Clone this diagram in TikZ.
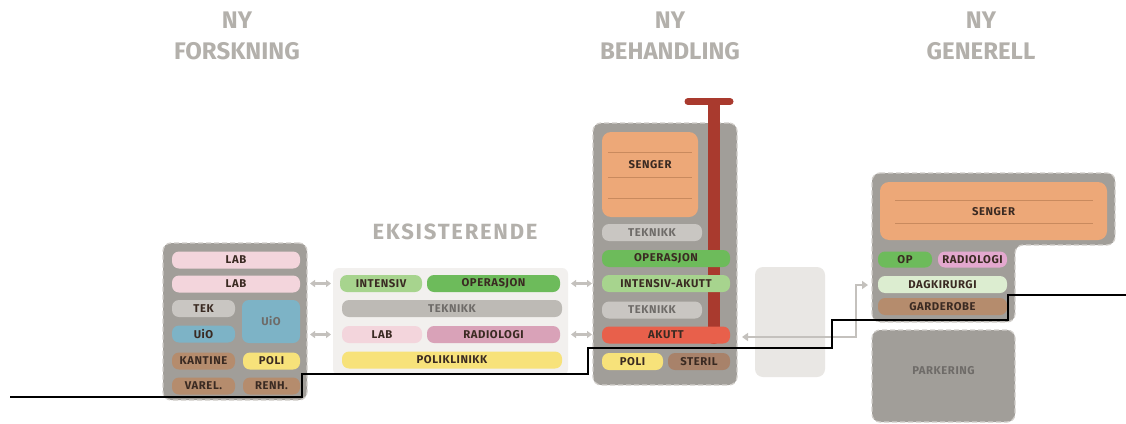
\documentclass[tikz,border=0pt]{standalone}
\usepackage{fontspec}
\setmainfont{Fira Sans}
\newfontfamily\lblfont[LetterSpace=5]{Fira Sans}
\newfontfamily\eksfont[LetterSpace=8]{Fira Sans}
\usetikzlibrary{arrows.meta}
\definecolor{bgray}{HTML}{A19E99}
\definecolor{bdash}{HTML}{D2CFCB}
\definecolor{pinkl}{HTML}{F3D5DC}
\definecolor{tekg}{HTML}{C9C6C2}
\definecolor{uiob}{HTML}{7DB3C6}
\definecolor{brownr}{HTML}{B58C6D}
\definecolor{yel}{HTML}{F7E27A}
\definecolor{greenl}{HTML}{A7D48E}
\definecolor{greend}{HTML}{6DBB5B}
\definecolor{tekm}{HTML}{BDBAB5}
\definecolor{mauve}{HTML}{D9A2B8}
\definecolor{eksbg}{HTML}{F2F0EE}
\definecolor{orng}{HTML}{EDA878}
\definecolor{sline}{HTML}{C98A5E}
\definecolor{redb}{HTML}{E8604B}
\definecolor{steril}{HTML}{A8826A}
\definecolor{dagk}{HTML}{DCEDD0}
\definecolor{radp}{HTML}{E4A8CF}
\definecolor{pole}{HTML}{A93A2E}
\definecolor{placeh}{HTML}{E9E7E4}
\definecolor{txt}{HTML}{3A2A22}
\definecolor{txtg}{HTML}{6E6B68}
\definecolor{ttl}{HTML}{B3B0AB}
\definecolor{arr}{HTML}{C4C1BD}
\begin{document}
\begin{tikzpicture}[x=1pt,y=-1pt,
  bld/.style={fill=bgray, draw=bdash, dash pattern=on 5pt off 3pt, line width=1.2pt, rounded corners=8pt},
  room/.style={rectangle, rounded corners=7pt, inner sep=0pt, minimum height=17pt,
    font=\lblfont\bfseries\fontsize{11.3}{13}\selectfont, text=txt},
  ttlstyle/.style={font=\bfseries\fontsize{24}{28}\selectfont, text=ttl, inner sep=0pt},
  dbl/.style={draw=arr, line width=2.2pt, {Triangle[length=5pt,width=7pt]}-{Triangle[length=5pt,width=7pt]}},
  ground/.style={draw=black, line width=1.4pt},
  sl/.style={draw=sline, line width=0.6pt}]
\useasboundingbox[fill=white] (0,0) rectangle (1126,423);

% titles
\node[ttlstyle] (t1a) at (237,20) {NY};
\node[ttlstyle] (t1b) at (237,51) {FORSKNING};
\node[ttlstyle] (t2a) at (670,20) {NY};
\node[ttlstyle] (t2b) at (670,51) {BEHANDLING};
\node[ttlstyle] (t3a) at (981,20) {NY};
\node[ttlstyle] (t3b) at (981,51) {GENERELL};

% left building
\node[bld, minimum width=144pt, minimum height=157pt] (fb) at (235,321.5) {};
\node[room, fill=pinkl, minimum width=128pt] (lab1) at (236,260) {LAB};
\node[room, fill=pinkl, minimum width=128pt] (lab2) at (236,284) {LAB};
\node[room, fill=tekg, minimum width=63pt] (tek) at (203.5,308.5) {TEK};
\node[room, fill=uiob, minimum width=63pt, text=txt] (uio1) at (203.5,334) {UiO};
\node[room, fill=uiob, minimum width=58pt, minimum height=43pt, text=txtg] (uio2) at (271,321.5) {UiO};
\node[room, fill=brownr, minimum width=63pt] (kantine) at (203.5,361) {KANTINE};
\node[room, fill=yel, minimum width=57pt] (poli1) at (271.5,361) {POLI};
\node[room, fill=brownr, minimum width=63pt] (varel) at (203.5,386) {VAREL.};
\node[room, fill=brownr, minimum width=57pt] (renh) at (271.5,386) {RENH.};

% existing
\node[font=\eksfont\bfseries\fontsize{22}{26}\selectfont, text=ttl, inner sep=0pt] (eks) at (455,232) {EKSISTERENDE};
\node[fill=eksbg, rounded corners=6pt, minimum width=235pt, minimum height=107pt, inner sep=0pt] (ebg) at (450.5,321.5) {};
\node[room, fill=greenl, minimum width=82pt] (intensiv) at (381,283.5) {INTENSIV};
\node[room, fill=greend, minimum width=133pt] (oper1) at (493.5,283.5) {OPERASJON};
\node[room, fill=tekm, minimum width=220pt, text=txtg] (tekn1) at (452,308.5) {TEKNIKK};
\node[room, fill=pinkl, minimum width=80pt] (lab3) at (382,334.5) {LAB};
\node[room, fill=mauve, minimum width=133pt] (rad1) at (493.5,334.5) {RADIOLOGI};
\node[room, fill=yel, minimum width=220pt] (polikl) at (452,360) {POLIKLINIKK};

% treatment building
\node[bld, minimum width=144pt, minimum height=262pt] (bb) at (665,254) {};
\node[room, fill=orng, minimum width=96pt, minimum height=85pt, rounded corners=9pt] (senger1) at (650,174.5) {};
\draw[sl] (608,152) -- (692,152);
\draw[sl] (608,177) -- (692,177);
\draw[sl] (608,198) -- (692,198);
\node[room, fill=none] (senger1t) at (650,165) {SENGER};
\draw[draw=pole, line width=12pt, line cap=round] (713.5,104) -- (713.5,338);
\draw[draw=pole, line width=7pt, line cap=round] (688,101.5) -- (730,101.5);
\node[room, fill=tekg, minimum width=100pt, text=txtg] (tekn2) at (652,232.5) {TEKNIKK};
\node[room, fill=greend, minimum width=128pt] (oper2) at (666,258.5) {OPERASJON};
\node[room, fill=greenl, minimum width=128pt] (intak) at (666,283.5) {INTENSIV-AKUTT};
\node[room, fill=tekg, minimum width=100pt, text=txtg] (tekn3) at (652,310) {TEKNIKK};
\node[room, fill=redb, minimum width=128pt] (akutt) at (666,335) {AKUTT};
\node[room, fill=yel, minimum width=61pt] (poli2) at (632.5,361.5) {POLI};
\node[room, fill=steril, minimum width=62pt] (steril) at (699,361.5) {STERIL};

% placeholder
\node[fill=placeh, rounded corners=8pt, minimum width=70pt, minimum height=110pt, inner sep=0pt] (ph) at (790,322) {};

% general building
\draw[bld] (872,173) -- (1115,173) -- (1115,245) -- (1015,245) -- (1015,322) -- (872,322) -- cycle;
\node[room, fill=orng, minimum width=227pt, minimum height=58pt, rounded corners=9pt] (senger2) at (993.5,211) {};
\draw[sl] (895,200) -- (1093,200);
\draw[sl] (895,223) -- (1093,223);
\node[room, fill=none] (senger2t) at (993.5,212) {SENGER};
\node[room, fill=greend, minimum width=54pt, minimum height=16pt] (op) at (905,259.5) {OP};
\node[room, fill=radp, minimum width=69pt, minimum height=16pt] (rad2) at (972.5,259.5) {RADIOLOGI};
\node[room, fill=dagk, minimum width=129pt] (dagk) at (942.5,284.5) {DAGKIRURGI};
\node[room, fill=brownr, minimum width=129pt] (gard) at (942.5,306.5) {GARDEROBE};
\node[bld, minimum width=143pt, minimum height=92pt] (park) at (943.5,376) {};
\node[room, fill=none, text=txtg] (parkt) at (943.5,371) {PARKERING};

% connectors
\coordinate (l1a) at (310,283.5); \coordinate (l1b) at (331,283.5);
\coordinate (l2a) at (310,334.5); \coordinate (l2b) at (331,334.5);
\coordinate (r1a) at (571,283.5); \coordinate (r1b) at (592,283.5);
\coordinate (r2a) at (571,334.5); \coordinate (r2b) at (592,334.5);
\draw[dbl] (l1a) -- (l1b);
\draw[dbl] (l2a) -- (l2b);
\draw[dbl] (r1a) -- (r1b);
\draw[dbl] (r2a) -- (r2b);
\coordinate (gl) at (742,337);
\coordinate (gr) at (868,285);
\draw[draw=arr, line width=2.6pt, {Triangle[length=6pt,width=8pt]}-{Triangle[length=6pt,width=8pt]}] (gl) -- (856,337) -- (856,285) -- (gr);

% ground line
\coordinate (g0) at (10,397);
\coordinate (g9) at (1126,295);
\draw[ground] (g0) -- (302,397) -- (302,374) -- (588,374) -- (588,348) -- (832,348) -- (832,320) -- (1008,320) -- (1008,295) -- (g9);
\end{tikzpicture}
\end{document}
